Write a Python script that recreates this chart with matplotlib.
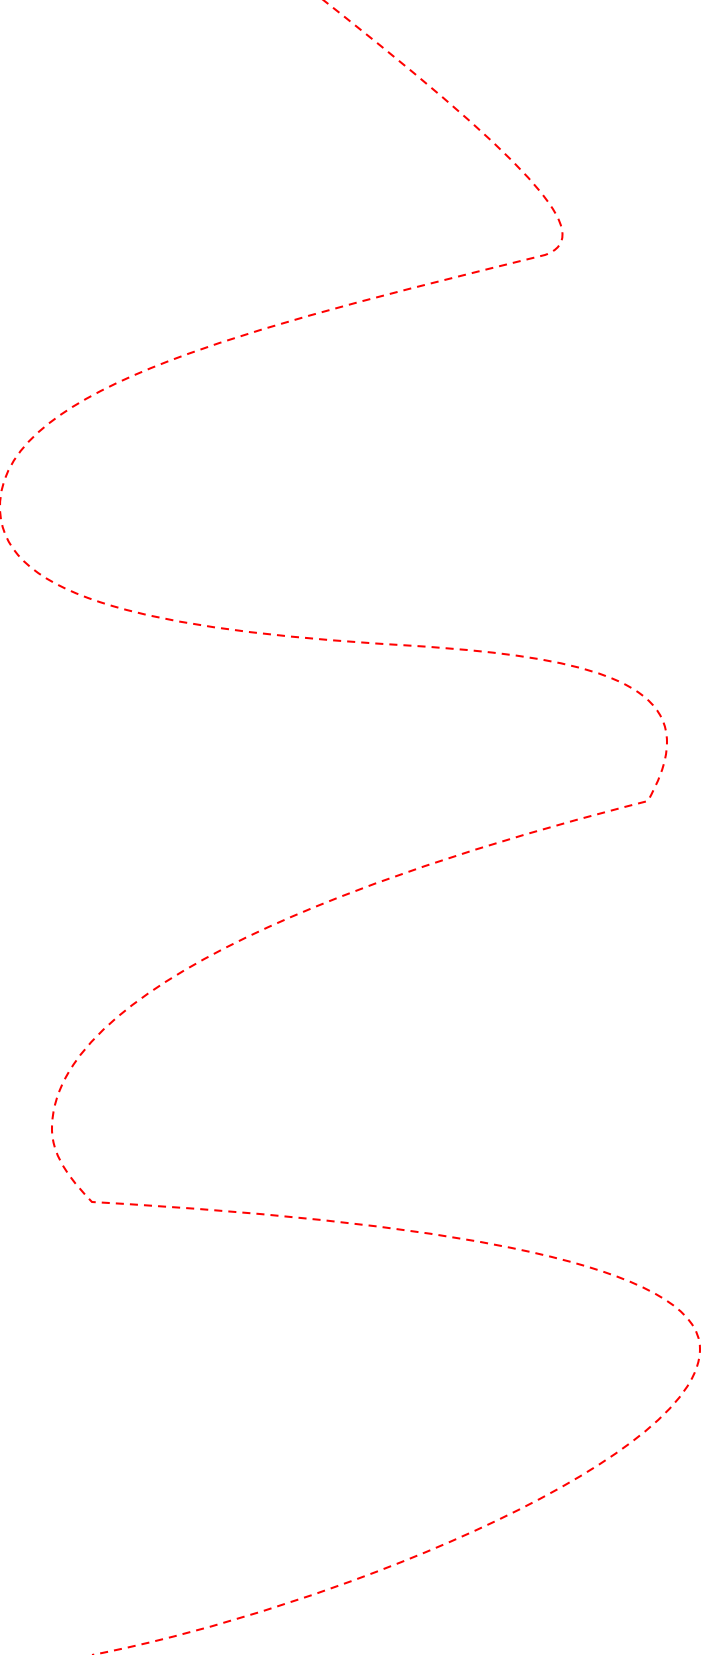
import matplotlib
matplotlib.use("Agg")
import matplotlib.pyplot as plt
from matplotlib.path import Path
from matplotlib.patches import PathPatch

# cubic bezier pieces, pixel units (y grows downward)
start = (322, 0)
ctrl1 = [(543, 174), (245, 330), (0, 598), (550, 655), (667, 765),
         (400, 865), (52, 1160), (480, 1225), (700, 1460)]
ctrl2 = [(595, 238), (0, 390), (150, 631), (667, 673), (657, 785),
         (52, 980), (75, 1185), (700, 1272), (330, 1610)]
anchors = [(545, 256), (0, 508), (400, 646), (667, 743), (648, 802),
           (52, 1130), (92, 1203), (700, 1350), (92, 1656)]

fig = plt.figure(figsize=(7.03, 16.56), dpi=100)
ax = fig.add_axes([0, 0, 1, 1])
ax.set_xlim(0, 703)
ax.set_ylim(1656, 0)
ax.axis("off")

verts = [start]
codes = [Path.MOVETO]
for c1, c2, p in zip(ctrl1, ctrl2, anchors):
    verts += [c1, c2, p]
    codes += [Path.CURVE4] * 3

path = Path(verts, codes)
patch = PathPatch(path, facecolor="none", edgecolor="#ff0000", linewidth=1.45,
                  linestyle=(0, (4, 3)), capstyle="butt")
ax.add_patch(patch)

fig.savefig("out.png", dpi=100, facecolor="white")
